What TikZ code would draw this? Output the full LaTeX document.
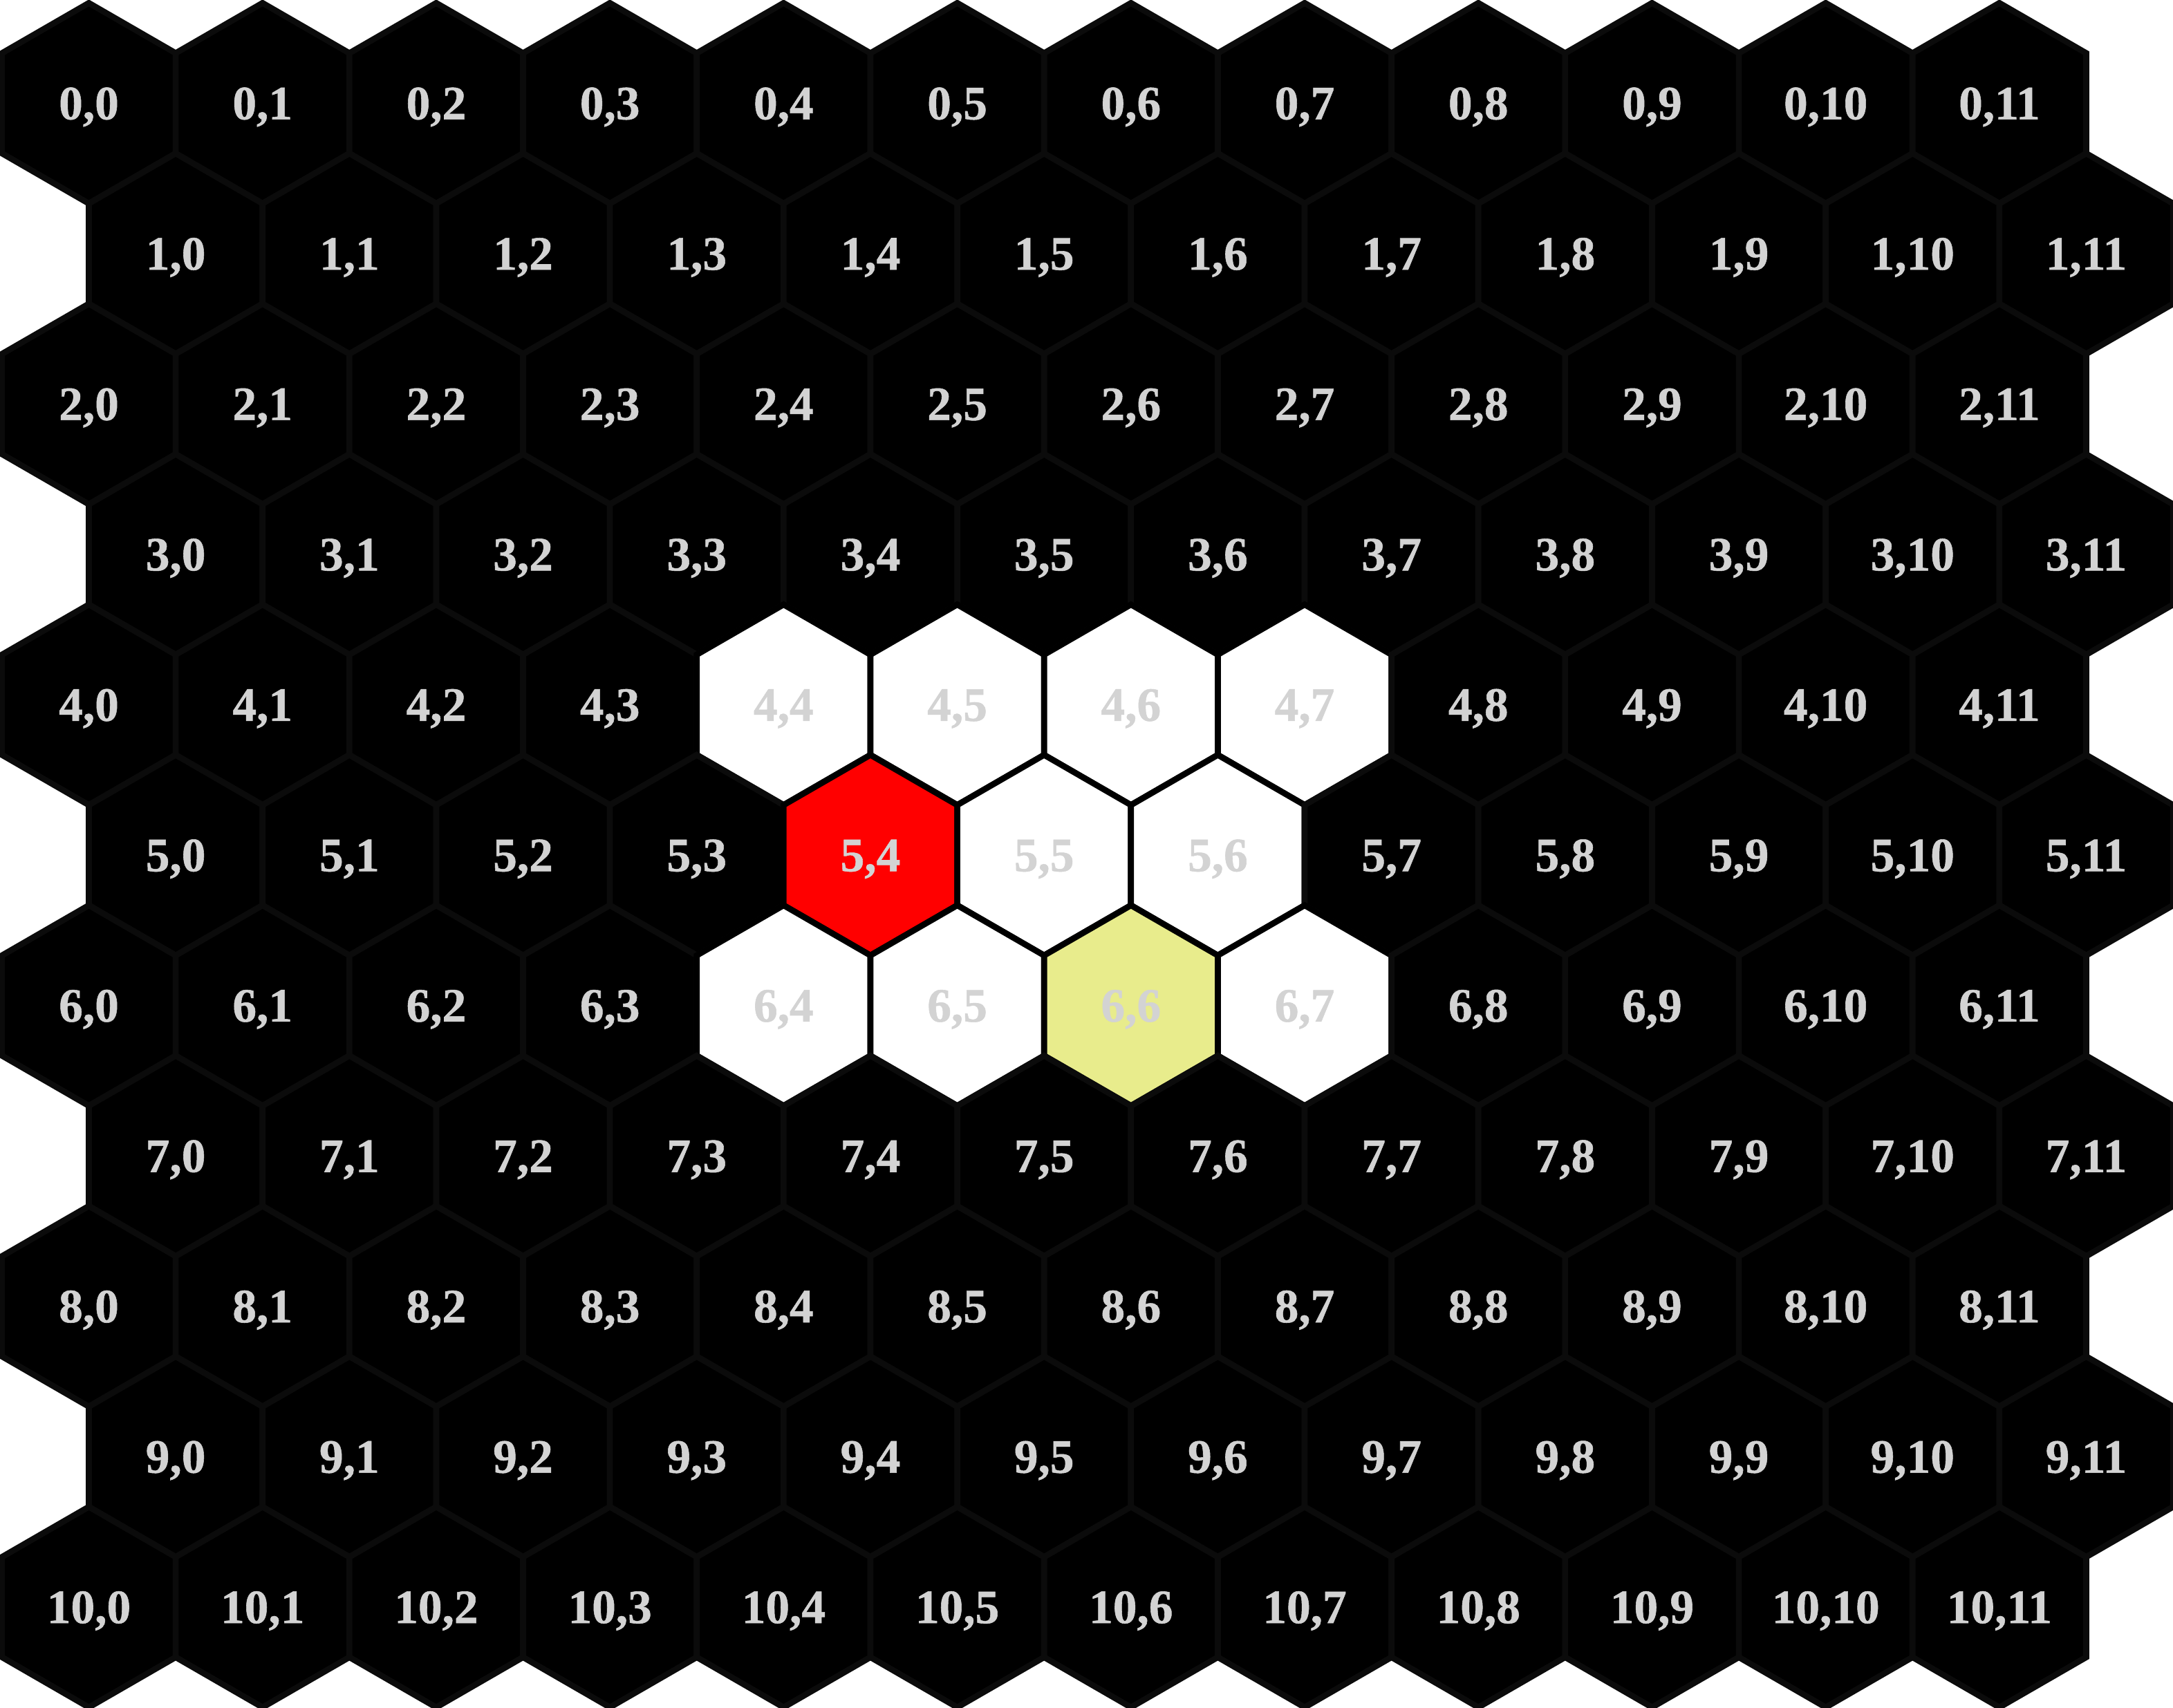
\documentclass[tikz,border=0pt]{standalone}
\usepackage{fontspec}
\newfontfamily\hexfont{Liberation Serif}[BoldFeatures={FakeBold=0.8}]
\usetikzlibrary{shapes.geometric}
\definecolor{labelgray}{HTML}{D3D3D3}
\definecolor{edgegray}{HTML}{0B0B0B}
\definecolor{hexyellow}{HTML}{E8EC8C}
\tikzset{
  hex/.style={regular polygon, regular polygon sides=6, shape border rotate=30,
    minimum size=2cm, inner sep=0pt, outer sep=0pt, line width=1.7pt,
    fill=black, draw=edgegray},
  lbl/.style={anchor=base, inner sep=0pt, text=labelgray,
    font=\hexfont\bfseries\fontsize{13.6}{14}\selectfont},
  whitehex/.style={fill=white, draw=black},
  redhex/.style={fill=red, draw=black},
  yellowhex/.style={fill=hexyellow, draw=black},
  c4-4/.style={whitehex}, c4-5/.style={whitehex}, c4-6/.style={whitehex}, c4-7/.style={whitehex},
  c5-4/.style={redhex}, c5-5/.style={whitehex}, c5-6/.style={whitehex},
  c6-4/.style={whitehex}, c6-5/.style={whitehex}, c6-6/.style={yellowhex}, c6-7/.style={whitehex},
}
\begin{document}
\begin{tikzpicture}
\useasboundingbox (-0.02,0.03) rectangle (21.65,-17);
\foreach \r in {0,...,10}{
  \foreach \c in {0,...,11}{
    \pgfmathsetmacro{\xx}{0.866025 + 1.732051*\c + 0.866025*mod(\r,2)}
    \pgfmathsetmacro{\yy}{-(1 + 1.5*\r)}
    \node[hex, c\r-\c/.try] (h-\r-\c) at (\xx,\yy) {};
    \node[lbl] (t-\r-\c) at ([yshift=-0.16cm]h-\r-\c.center) {\r,\c};
  }
}
\end{tikzpicture}
\end{document}
